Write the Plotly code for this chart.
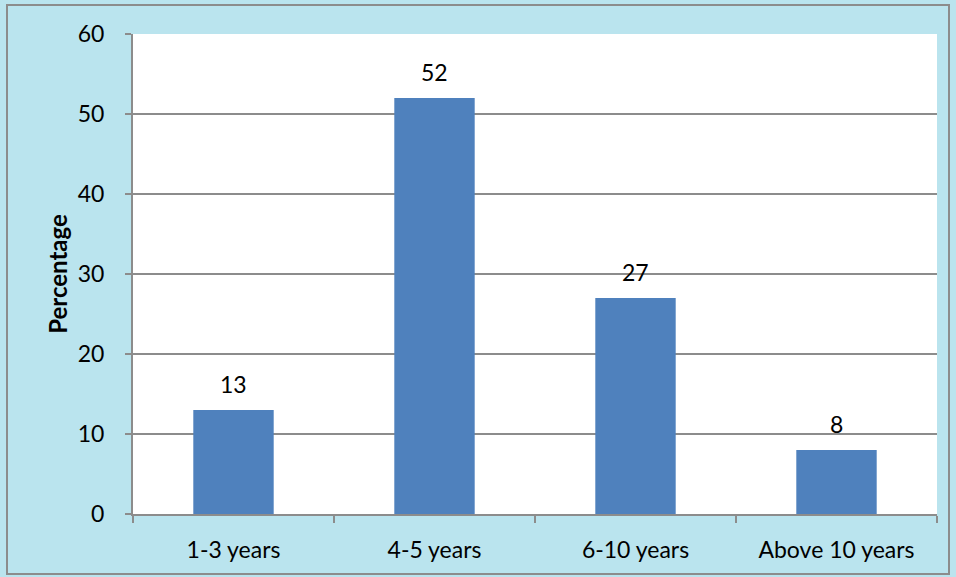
import plotly.graph_objects as go

categories = ["1-3 years", "4-5 years", "6-10 years", "Above 10 years"]
values = [13, 52, 27, 8]
y_ticks = [0, 10, 20, 30, 40, 50, 60]

W, H = 956, 577
L, R, T, B = 133, 19, 34, 63
pw, ph = W - L - R, H - T - B

font = "Lato, Carlito, 'Open Sans', sans-serif"
fs = 23

fig = go.Figure()
fig.add_trace(go.Bar(
    x=categories, y=values, marker=dict(color="#4F81BD", line=dict(width=0)),
    width=0.4, hoverinfo="skip",
))

for c, v in zip(categories, values):
    fig.add_annotation(x=c, y=v, text=str(v), showarrow=False, yanchor="bottom",
                       yshift=10, font=dict(family=font, size=fs, color="#000"))

# outer frame
fig.add_shape(type="rect", xref="paper", yref="paper",
              x0=(7 - L) / pw, x1=(949 - L) / pw,
              y0=(H - B - 574) / ph, y1=(H - B - 5) / ph,
              line=dict(color="#8C8C8C", width=2), fillcolor="rgba(0,0,0,0)", layer="below")

fig.update_layout(
    width=W, height=H,
    margin=dict(l=L, r=R, t=T, b=B),
    paper_bgcolor="#BAE4EE",
    plot_bgcolor="#FFFFFF",
    showlegend=False,
    font=dict(family=font, size=fs, color="#000"),
    xaxis=dict(
        type="category", tickson="boundaries", ticks="outside", ticklen=7,
        tickcolor="#8C8C8C", tickwidth=2, showgrid=False,
        showline=True, linecolor="#8C8C8C", linewidth=2,
        ticklabelstandoff=14, tickfont=dict(family=font, size=fs),
        range=[-0.5, 3.5],
    ),
    yaxis=dict(
        range=[0, 60], tickvals=y_ticks, ticks="outside", ticklen=6,
        tickcolor="#8C8C8C", tickwidth=2, showgrid=True, gridcolor="#8C8C8C", gridwidth=2,
        showline=True, linecolor="#8C8C8C", linewidth=2, zeroline=False,
        ticklabelstandoff=16, tickfont=dict(family=font, size=fs),
        title=dict(text="<b>Percentage</b>", font=dict(family=font, size=24), standoff=3),
    ),
)

fig.write_html("out.html")
